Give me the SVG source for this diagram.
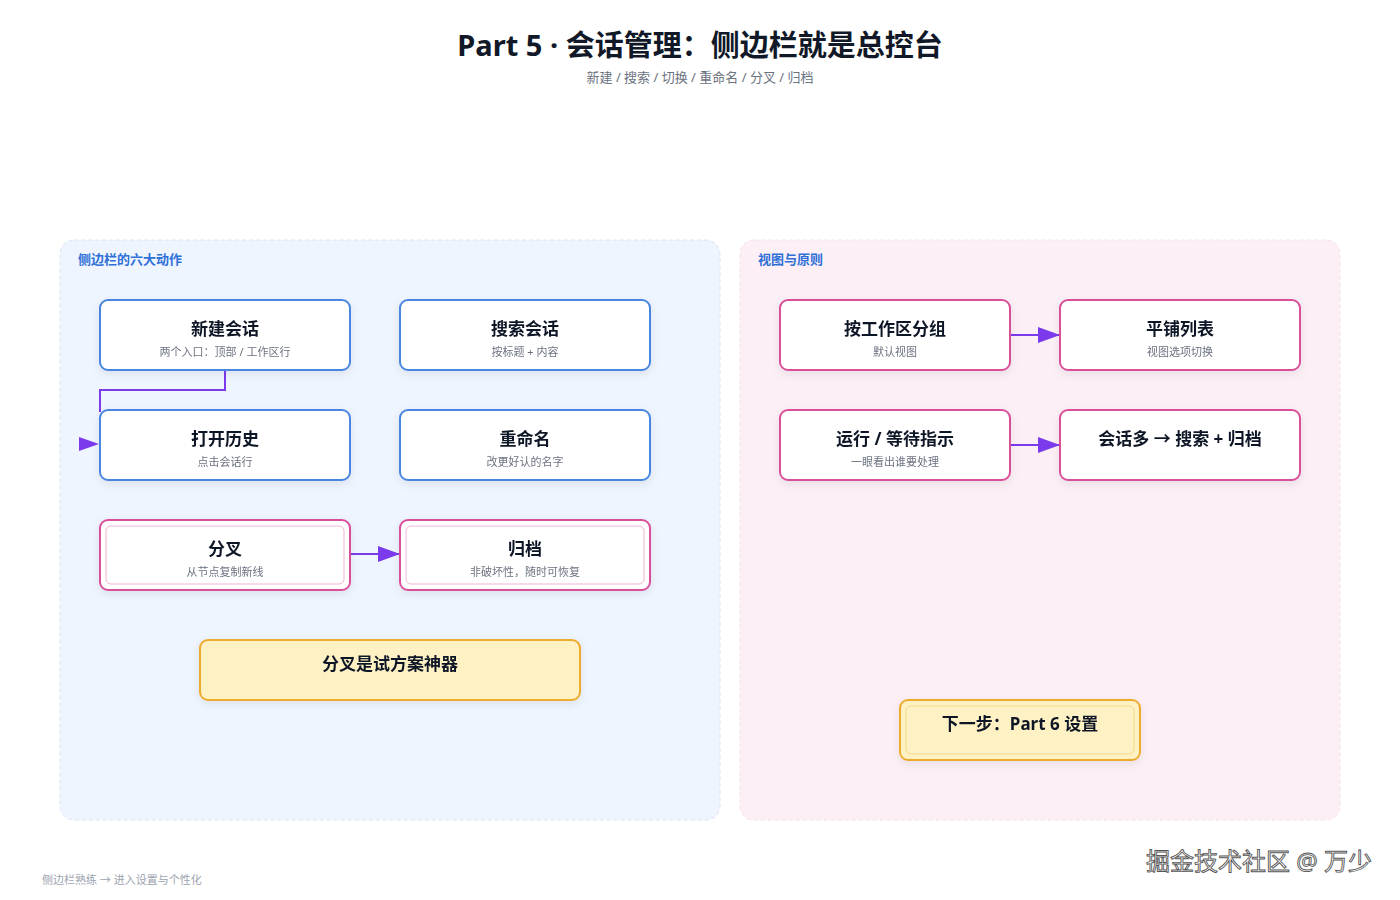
<svg xmlns="http://www.w3.org/2000/svg" width="1400" height="900" viewBox="0 0 1400 900">
<defs>
<style>
text{font-family:"Noto Sans","Noto Sans CJK SC",sans-serif;text-anchor:middle}
.t{font-size:17px;font-weight:700;fill:#111827}
.s{font-size:11px;fill:#6b7280}
.bn{fill:#fff;stroke:#4a86e0;stroke-width:2}
.pn{fill:#fff;stroke:#d9509a;stroke-width:2}
.yn{fill:#fef1c4;stroke:#eeab2e;stroke-width:2}
.c{fill:none;stroke:#7c3aed;stroke-width:2}
</style>
<marker id="a2" viewBox="0 0 10 10" refX="10" refY="5" markerWidth="22" markerHeight="16" markerUnits="userSpaceOnUse" orient="auto" preserveAspectRatio="none"><path d="M0,0L10,5L0,10z" fill="#7c3aed"/></marker>
<filter id="sh" x="-10%" y="-20%" width="120%" height="150%"><feDropShadow dx="0" dy="3" stdDeviation="4" flood-color="#000" flood-opacity="0.08"/></filter>
</defs>
<rect width="1400" height="900" fill="#fff"/>
<text x="700" y="56" style="font-size:29px;font-weight:700;fill:#111827">Part 5 · 会话管理：侧边栏就是总控台</text>
<text x="700" y="82" style="font-size:13px;fill:#6b7280">新建 / 搜索 / 切换 / 重命名 / 分叉 / 归档</text>
<g id="cluster-left"><rect x="60" y="240" width="660" height="580" rx="14" fill="#eef5ff" stroke="#dbe4f0" stroke-dasharray="4 3"/><text x="78" y="264" style="font-size:13px;font-weight:700;fill:#2f6fd8;text-anchor:start">侧边栏的六大动作</text></g>
<g id="cluster-right"><rect x="740" y="240" width="600" height="580" rx="14" fill="#fcf0f6" stroke="#f5e0ea" stroke-dasharray="4 3"/><text x="758" y="264" style="font-size:13px;font-weight:700;fill:#2f6fd8;text-anchor:start">视图与原则</text></g>
<g id="connectors">
<path class="c" d="M225,370V390H100V412"/>
<path d="M79,437L99,444L79,451z" fill="#7c3aed"/>
<path class="c" d="M350,554H400" marker-end="url(#a2)"/>
<path class="c" d="M1010,335H1060" marker-end="url(#a2)"/>
<path class="c" d="M1010,445H1060" marker-end="url(#a2)"/>
</g>
<g id="n1" filter="url(#sh)"><rect class="bn" x="100" y="300" width="250" height="70" rx="8"/><text class="t" x="225" y="335">新建会话</text><text class="s" x="225" y="356">两个入口：顶部 / 工作区行</text></g>
<g id="n2" filter="url(#sh)"><rect class="bn" x="400" y="300" width="250" height="70" rx="8"/><text class="t" x="525" y="335">搜索会话</text><text class="s" x="525" y="356">按标题 + 内容</text></g>
<g id="n3" filter="url(#sh)"><rect class="bn" x="100" y="410" width="250" height="70" rx="8"/><text class="t" x="225" y="445">打开历史</text><text class="s" x="225" y="466">点击会话行</text></g>
<g id="n4" filter="url(#sh)"><rect class="bn" x="400" y="410" width="250" height="70" rx="8"/><text class="t" x="525" y="445">重命名</text><text class="s" x="525" y="466">改更好认的名字</text></g>
<g id="n5" filter="url(#sh)"><rect class="pn" x="100" y="520" width="250" height="70" rx="8"/><rect x="106" y="526" width="238" height="58" rx="5" fill="none" stroke="#f1b3cf"/><text class="t" x="225" y="555">分叉</text><text class="s" x="225" y="576">从节点复制新线</text></g>
<g id="n6" filter="url(#sh)"><rect class="pn" x="400" y="520" width="250" height="70" rx="8"/><rect x="406" y="526" width="238" height="58" rx="5" fill="none" stroke="#f1b3cf"/><text class="t" x="525" y="555">归档</text><text class="s" x="525" y="576">非破坏性，随时可恢复</text></g>
<g id="n7" filter="url(#sh)"><rect class="yn" x="200" y="640" width="380" height="60" rx="8"/><text class="t" x="390" y="670">分叉是试方案神器</text></g>
<g id="r1" filter="url(#sh)"><rect class="pn" x="780" y="300" width="230" height="70" rx="8"/><text class="t" x="895" y="335">按工作区分组</text><text class="s" x="895" y="356">默认视图</text></g>
<g id="r2" filter="url(#sh)"><rect class="pn" x="1060" y="300" width="240" height="70" rx="8"/><text class="t" x="1180" y="335">平铺列表</text><text class="s" x="1180" y="356">视图选项切换</text></g>
<g id="r3" filter="url(#sh)"><rect class="pn" x="780" y="410" width="230" height="70" rx="8"/><text class="t" x="895" y="445">运行 / 等待指示</text><text class="s" x="895" y="466">一眼看出谁要处理</text></g>
<g id="r4" filter="url(#sh)"><rect class="pn" x="1060" y="410" width="240" height="70" rx="8"/><text class="t" x="1180" y="445">会话多 → 搜索 + 归档</text></g>
<g id="r5" filter="url(#sh)"><rect class="yn" x="900" y="700" width="240" height="60" rx="8"/><rect x="906" y="706" width="228" height="48" rx="5" fill="none" stroke="#f5d98a"/><text class="t" x="1020" y="730">下一步：Part 6 设置</text></g>
<text x="42" y="884" style="font-size:11px;fill:#9ca3af;text-anchor:start">侧边栏熟练 → 进入设置与个性化</text>
<text x="1372" y="870" style="font-size:24px;fill:#fff;stroke:#555;stroke-width:0.9;text-anchor:end">掘金技术社区 @ 万少</text>
</svg>
